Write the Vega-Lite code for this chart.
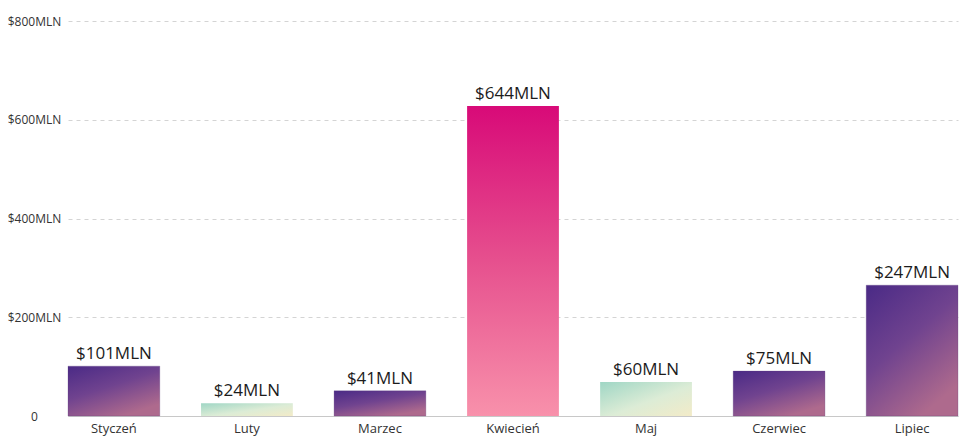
{
  "$schema": "https://vega.github.io/schema/vega-lite/v6.json",
  "width": 890,
  "height": 395,
  "autosize": {"type": "none"},
  "padding": {"left": 68, "top": 21, "right": 18, "bottom": 26},
  "background": "white",
  "config": {
    "view": {"stroke": null},
    "font": "Open Sans",
    "axis": {"labelFont": "Open Sans", "titleFont": "Open Sans"}
  },
  "data": {
    "values": [
      {"month": "Styczeń", "value": 101, "label": "$101MLN"},
      {"month": "Luty", "value": 26, "label": "$24MLN"},
      {"month": "Marzec", "value": 51, "label": "$41MLN"},
      {"month": "Kwiecień", "value": 628, "label": "$644MLN"},
      {"month": "Maj", "value": 69, "label": "$60MLN"},
      {"month": "Czerwiec", "value": 91, "label": "$75MLN"},
      {"month": "Lipiec", "value": 265, "label": "$247MLN"}
    ]
  },
  "encoding": {
    "x": {
      "field": "month",
      "type": "nominal",
      "sort": ["Styczeń", "Luty", "Marzec", "Kwiecień", "Maj", "Czerwiec", "Lipiec"],
      "title": null,
      "scale": {"paddingInner": 0.31, "paddingOuter": 0},
      "axis": {
        "labelAngle": 0,
        "ticks": false,
        "domain": true,
        "domainColor": "#c8c8c8",
        "labelPadding": 6,
        "labelFontSize": 13,
        "labelColor": "#333333"
      }
    },
    "y": {
      "field": "value",
      "type": "quantitative",
      "title": null,
      "scale": {"domain": [0, 800], "nice": false},
      "axis": {
        "values": [0, 200, 400, 600, 800],
        "domain": false,
        "ticks": false,
        "tickSize": 0,
        "labelPadding": 34,
        "labelAlign": "center",
        "labelFontSize": 12,
        "labelColor": "#333333",
        "gridColor": "#d4d4d4",
        "gridDash": [4, 4],
        "labelExpr": "datum.value == 0 ? '0' : '$' + datum.value + 'MLN'"
      }
    }
  },
  "layer": [
    {
      "transform": [{"filter": {"field": "month", "oneOf": ["Styczeń", "Marzec", "Czerwiec", "Lipiec"]}}],
      "mark": {
        "type": "bar",
        "stroke": "#5a3a7a",
        "strokeWidth": 0.5,
        "strokeOpacity": 0.5,
        "fill": {
          "gradient": "linear",
          "x1": 0, "y1": 0, "x2": 0.6, "y2": 1,
          "stops": [
            {"offset": 0, "color": "#4a2a86"},
            {"offset": 0.5, "color": "#70438f"},
            {"offset": 1, "color": "#ae6a8d"}
          ]
        }
      }
    },
    {
      "transform": [{"filter": {"field": "month", "oneOf": ["Luty", "Maj"]}}],
      "mark": {
        "type": "bar",
        "fill": {
          "gradient": "linear",
          "x1": 0, "y1": 0, "x2": 1, "y2": 1,
          "stops": [
            {"offset": 0, "color": "#9fd6c5"},
            {"offset": 0.55, "color": "#dcecd6"},
            {"offset": 1, "color": "#f3ebc8"}
          ]
        }
      }
    },
    {
      "transform": [{"filter": {"field": "month", "oneOf": ["Kwiecień"]}}],
      "mark": {
        "type": "bar",
        "fill": {
          "gradient": "linear",
          "x1": 0, "y1": 0, "x2": 0, "y2": 1,
          "stops": [
            {"offset": 0, "color": "#d80a78"},
            {"offset": 0.5, "color": "#e6508e"},
            {"offset": 1, "color": "#f891ab"}
          ]
        }
      }
    },
    {
      "mark": {
        "type": "text",
        "baseline": "bottom",
        "dy": -3,
        "fontSize": 17,
        "color": "#1c1c1c"
      },
      "encoding": {"text": {"field": "label"}}
    }
  ]
}
